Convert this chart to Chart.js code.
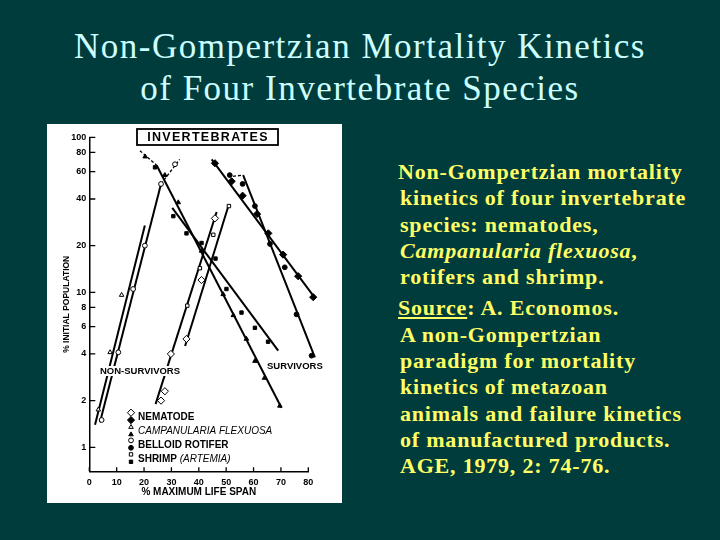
<!DOCTYPE html>
<html>
<head>
<meta charset="utf-8">
<title>Non-Gompertzian Mortality Kinetics</title>
<script src="https://cdn.jsdelivr.net/npm/chart.js@4.4.1/dist/chart.umd.min.js"></script>
<style>
  html, body { margin: 0; padding: 0; }
  body { width: 720px; height: 540px; background: #003c3c; position: relative; overflow: hidden; }
  .title {
    position: absolute; left: 0; top: 26px; width: 720px; text-align: center;
    color: #ccffff; font: 35px/42px 'Liberation Serif', 'Times New Roman', serif; letter-spacing: 1.5px;
  }
  .panel { position: absolute; left: 47px; top: 124px; width: 295px; height: 379px; background: #fff; }
  .notes {
    position: absolute; left: 400px; top: 159px; color: #ffff66; white-space: nowrap; letter-spacing: 0.8px;
    font: bold 22px/26.3px 'Liberation Serif', 'Times New Roman', serif;
  }
  .notes p { margin: 0; text-indent: -2px; }
  .notes p + p { margin-top: 5px; }
</style>
</head>
<body>
<div class="title">Non-Gompertzian Mortality Kinetics<br>of Four Invertebrate Species</div>

<div class="panel"><canvas id="invChart" width="295" height="379"></canvas></div>

<div class="notes">
  <p>Non-Gompertzian mortality<br>kinetics of four invertebrate<br>species: nematodes,<br><i>Campanularia flexuosa</i>,<br>rotifers and shrimp.</p>
  <p><u>Source</u>: A. Economos.<br>A non-Gompertzian<br>paradigm for mortality<br>kinetics of metazoan<br>animals and failure kinetics<br>of manufactured products.<br>AGE, 1979, 2: 74-76.</p>
</div>

<script>
// Axis ticks
const xTicks = [0, 10, 20, 30, 40, 50, 60, 70, 80];
const yTicks = [1, 2, 4, 6, 8, 10, 20, 40, 60, 80, 100];

// Non-survivors (open symbols): [% max life span, % initial population]
const nematodeDead = [[26.2, 2.0], [27.6, 2.3], [29.8, 4.0], [35.5, 5.0], [41, 12], [45.9, 30]];
const campanulariaDead = [[3.3, 1.75], [7.6, 4.1], [11.8, 9.6]];
const rotiferDead = [[4.5, 1.5], [10.6, 4.1], [16, 10.5], [20.3, 20], [26.2, 50], [31.3, 67]];
const shrimpDead = [[35.8, 8.2], [40.4, 14.3], [45.3, 23.5], [51, 36]];

// Survivors (filled symbols)
const nematodeAlive = [[45.9, 68], [52, 52], [56, 42], [61.3, 32], [65.4, 24], [70.8, 17.5], [76.3, 12.7], [81.8, 9.3]];
const campanulariaAlive = [[20.4, 75], [27.6, 57], [32.5, 38], [41, 18.5], [48.9, 9.7], [52.6, 7.1], [57.4, 5], [60.5, 3.6], [64, 2.8], [69.6, 1.85]];
const rotiferAlive = [[51.3, 57], [56, 50], [60.5, 36], [66, 20.5], [71.4, 14.5], [75.7, 7.2], [81.2, 3.9]];
const shrimpAlive = [[24, 64], [30.7, 31], [35.5, 24], [41, 20.8], [46.1, 16.5], [50.1, 10.5], [55.6, 7.4], [60.5, 5.9], [65.3, 4.8]];

// Fitted lines, end points
const nematodeDeadFit = [[24.2, 1.9], [46.5, 33]];
const campanulariaDeadFit = [[2.1, 1.4], [20.3, 27]];
const rotiferDeadFit = [[3.9, 1.45], [26.2, 50]];
const shrimpDeadFit = [[35, 4.5], [51, 37]];
const nematodeAliveFit = [[44.7, 72], [82.4, 9.2]];
const campanulariaAliveFit = [[24.6, 66], [70.2, 1.8]];
const rotiferAliveFit = [[56.2, 57], [82.4, 3.8]];
const shrimpAliveFit = [[30.3, 35], [69, 4.2]];

// Dashed joins
const rotiferDeadTail = [[26.2, 50], [33, 72]];
const campanulariaAliveHead = [[18.5, 82], [24.6, 66]];
const rotiferAliveHead = [[52.5, 56], [56.2, 57]];

const species = ['NEMATODE', 'CAMPANULARIA FLEXUOSA', 'BELLOID ROTIFER', 'SHRIMP'];

// Marker style per species (same order as species)
const markerStyle = [
  { pointStyle: 'rectRot', radius: 3.6 },
  { pointStyle: 'triangle', radius: 2.6 },
  { pointStyle: 'circle', radius: 2.4 },
  { pointStyle: 'rect', radius: 2.4 }
];

const toXY = (arr) => arr.map(([x, y]) => ({ x, y }));

const pointSet = (arr, idx, filled) => ({
  data: toXY(arr),
  showLine: false,
  pointStyle: markerStyle[idx].pointStyle,
  pointRadius: markerStyle[idx].radius,
  pointBackgroundColor: filled ? '#000' : '#fff',
  pointBorderColor: '#000',
  pointBorderWidth: 1,
  clip: false,
  order: 0
});

const lineSet = (arr, dashed) => ({
  data: toXY(arr),
  showLine: true,
  borderColor: '#000',
  borderWidth: dashed ? 1.3 : 2,
  borderDash: dashed ? [3, 2] : [],
  pointRadius: 0,
  clip: false,
  order: 1
});

const datasets = [
  pointSet(nematodeDead, 0, false),
  pointSet(campanulariaDead, 1, false),
  pointSet(rotiferDead, 2, false),
  pointSet(shrimpDead, 3, false),
  pointSet(nematodeAlive, 0, true),
  pointSet(campanulariaAlive, 1, true),
  pointSet(rotiferAlive, 2, true),
  pointSet(shrimpAlive, 3, true),
  lineSet(nematodeDeadFit), lineSet(campanulariaDeadFit),
  lineSet(rotiferDeadFit), lineSet(shrimpDeadFit),
  lineSet(nematodeAliveFit), lineSet(campanulariaAliveFit),
  lineSet(rotiferAliveFit), lineSet(shrimpAliveFit),
  lineSet(rotiferDeadTail, true), lineSet(campanulariaAliveHead, true),
  lineSet(rotiferAliveHead, true)
];

const SANS = "'Liberation Sans', Arial, sans-serif";

// Inward ticks, boxed heading, group labels and the symbol key
const panelNotes = {
  id: 'panelNotes',
  afterDraw(chart) {
    const { ctx, chartArea: a, scales: { x, y } } = chart;
    ctx.save();

    ctx.strokeStyle = '#000';
    ctx.lineWidth = 1.3;
    ctx.beginPath();
    yTicks.forEach(v => {
      const py = y.getPixelForValue(v);
      ctx.moveTo(a.left, py); ctx.lineTo(a.left + 6, py);
    });
    xTicks.forEach(v => {
      const px = x.getPixelForValue(v);
      ctx.moveTo(px, a.bottom); ctx.lineTo(px, a.bottom - 4);
    });
    ctx.stroke();

    // heading box
    ctx.fillStyle = '#fff';
    ctx.fillRect(90, 5, 141, 16);
    ctx.lineWidth = 1.8;
    ctx.strokeRect(90, 5, 141, 16);
    ctx.fillStyle = '#000';
    ctx.font = 'bold 12.5px ' + SANS;
    ctx.textAlign = 'center';
    ctx.textBaseline = 'middle';
    if ('letterSpacing' in ctx) ctx.letterSpacing = '1.3px';
    ctx.fillText('INVERTEBRATES', 161, 13.5);
    if ('letterSpacing' in ctx) ctx.letterSpacing = '0px';

    // group labels on white
    ctx.textAlign = 'left';
    ctx.font = 'bold 9.5px ' + SANS;
    const label = (txt, lx, ly) => {
      const w = ctx.measureText(txt).width;
      ctx.fillStyle = '#fff';
      ctx.fillRect(lx - 1, ly - 5, w + 2, 10);
      ctx.fillStyle = '#000';
      ctx.fillText(txt, lx, ly);
    };
    label('NON-SURVIVORS', 53, 247);
    label('SURVIVORS', 220, 242);

    // key: open symbol above, filled below
    const rows = [293.3, 307.7, 321, 335];
    const symX = 84;
    const draw = Chart.helpers && Chart.helpers.drawPoint;
    species.forEach((name, i) => {
      const ry = rows[i];
      [[ry - 4.6, '#fff'], [ry + 2.8, '#000']].forEach(([sy, fill]) => {
        ctx.fillStyle = fill;
        ctx.strokeStyle = '#000';
        ctx.lineWidth = 1;
        if (draw) {
          draw(ctx, { pointStyle: markerStyle[i].pointStyle, radius: markerStyle[i].radius, rotation: 0, borderWidth: 1 }, symX, sy);
        }
      });
      ctx.fillStyle = '#000';
      if (i === 1) {
        ctx.font = 'italic 10px ' + SANS;
        ctx.fillText(name, 91, ry);
      } else if (i === 3) {
        ctx.font = 'bold 10px ' + SANS;
        ctx.fillText(name, 91, ry);
        const w = ctx.measureText(name + ' ').width;
        ctx.font = 'italic 10px ' + SANS;
        ctx.fillText('(ARTEMIA)', 91 + w, ry);
      } else {
        ctx.font = 'bold 10px ' + SANS;
        ctx.fillText(name, 91, ry);
      }
    });

    ctx.restore();
  }
};

const tickFont = { family: SANS, size: 9, weight: 'bold' };

new Chart(document.getElementById('invChart'), {
  type: 'scatter',
  data: { datasets },
  options: {
    responsive: false,
    animation: false,
    events: [],
    layout: { padding: { left: 0, top: 13.3, right: 33.7, bottom: 0 } },
    plugins: { legend: { display: false }, tooltip: { enabled: false } },
    scales: {
      x: {
        type: 'linear',
        min: 0,
        max: 80,
        afterBuildTicks: (s) => { s.ticks = xTicks.map(v => ({ value: v })); },
        afterFit: (s) => { s.height = 31.7; },
        grid: { display: false, tickLength: 0 },
        border: { display: true, color: '#000', width: 1.5 },
        ticks: { font: tickFont, color: '#000', padding: 6, maxRotation: 0 },
        title: {
          display: true, text: '% MAXIMUM LIFE SPAN', color: '#000',
          font: { family: SANS, size: 10, weight: 'bold' }, padding: { top: 0, bottom: 5 }
        }
      },
      y: {
        type: 'logarithmic',
        min: 0.746,
        max: 100,
        afterBuildTicks: (s) => { s.ticks = yTicks.map(v => ({ value: v })); },
        afterFit: (s) => { s.width = 42.3; },
        grid: { display: false, tickLength: 0 },
        border: { display: true, color: '#000', width: 1.5 },
        ticks: { font: tickFont, color: '#000', padding: 3, callback: (v) => String(v) },
        title: {
          display: true, text: '% INITIAL POPULATION', color: '#000',
          font: { family: SANS, size: 8.5, weight: 'bold' }, padding: { top: 15, bottom: 0 }
        }
      }
    }
  },
  plugins: [panelNotes]
});
</script>
</body>
</html>
